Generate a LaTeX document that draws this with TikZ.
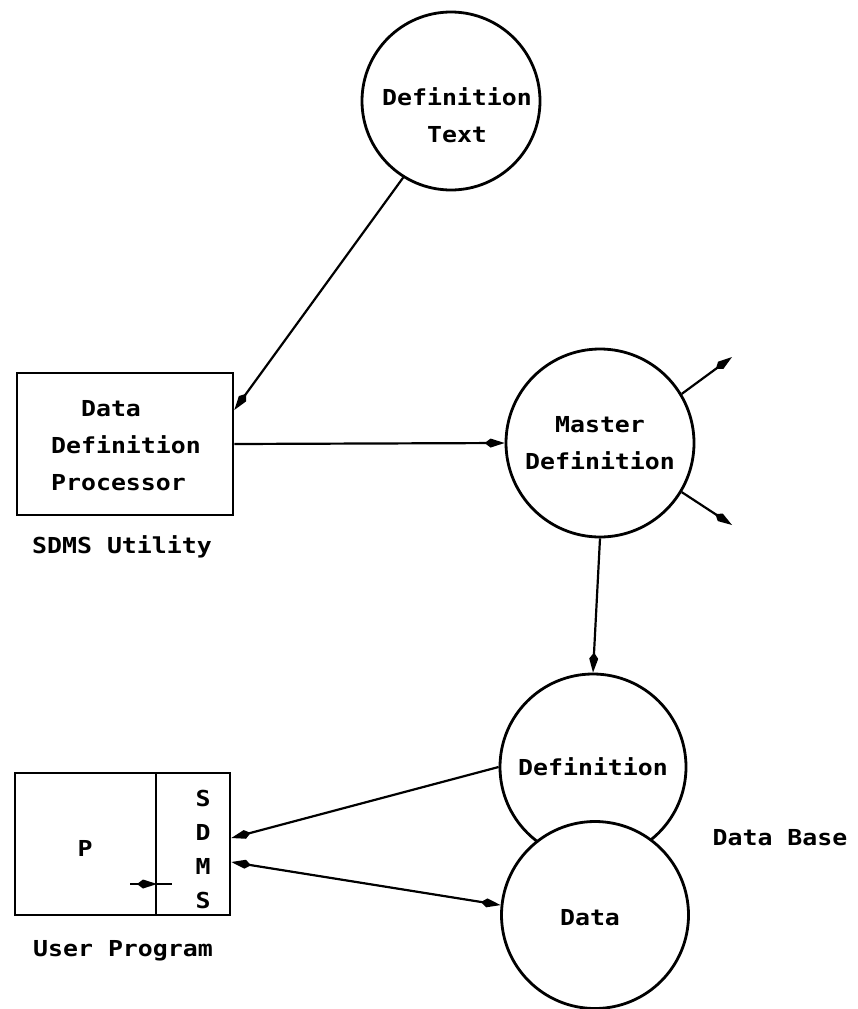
\documentclass[tikz,border=0pt]{standalone}
\usepackage{fontspec}
\setmonofont{DejaVu Sans Mono}[FakeStretch=1.13]
\usetikzlibrary{arrows.meta,calc}
\begin{document}
\begin{tikzpicture}[x=1pt,y=-1pt,
  lbl/.style={font=\ttfamily\bfseries\fontsize{22}{37}\selectfont, inner sep=0pt},
  bubble/.style={circle, draw, line width=2.8pt, fill=white, inner sep=0pt, align=center, font=\ttfamily\bfseries\fontsize{22}{37}\selectfont},
  boxs/.style={rectangle, draw, line width=2.6pt, inner sep=0pt},
  tipk/.tip={Kite[length=20pt,width=9pt,inset=6pt]},
  conn/.style={line width=2.2pt, -tipk},
  conn2/.style={line width=2.2pt, tipk-tipk},
  plain/.style={line width=2.2pt},
]
\fill[white] (0,0) rectangle (858,1009);
\useasboundingbox (0,0) rectangle (858,1009);

% Definition Text
\node[bubble, minimum size=178pt] (deftext) at (451,101) {};
\node[lbl, align=center] (deftextl) at (457,115) {Definition\\Text};

% Data Definition Processor
\node[boxs, minimum width=216pt, minimum height=142pt] (ddp) at (125,444) {};
\node[lbl, align=left] (ddpl) at (126,446) {\hphantom{De}Data\\Definition\\Processor};
\node[lbl, anchor=base] (sdmsu) at (122,553) {SDMS Utility};

% Master Definition
\node[bubble, minimum size=188pt] (mast) at (600,443) {Master\\Definition};
\coordinate (mo1) at (732,357);
\coordinate (mo2) at (732,525);

% Data base circles
\node[bubble, minimum size=186pt] (def) at (593,767) {};
\node[lbl, anchor=base] (defl) at (593,775) {Definition};
\node[bubble, minimum size=187pt] (data) at (595,915) {};
\node[lbl, anchor=base] (datal) at (590,925) {Data};
\node[lbl, anchor=base] (dbase) at (780,845) {Data Base};

% User program box
\node[boxs, minimum width=215pt, minimum height=142pt] (up) at (122.5,844) {};
\coordinate (divtop) at (156,773);
\coordinate (divbot) at (156,915);
\draw[plain] (divtop) -- (divbot);
\node[lbl, anchor=base] (pl) at (85,856) {P};
\node[lbl, align=center, font=\ttfamily\bfseries\fontsize{22}{34}\selectfont] (sdmsl) at (203,849) {S\\D\\M\\S};
\node[lbl, anchor=base] (upl) at (123,956) {User Program};
\coordinate (sa) at (130,884);
\coordinate (sb) at (157,884);
\coordinate (sc) at (172,884);

% connectors
\draw[conn] (deftext.238) -- ($(ddp.east)+(0,-34)$);
\draw[conn] (ddp.east) -- (mast.west);
\draw[conn] (mast.31) -- (mo1);
\draw[conn] (mast.-31) -- (mo2);
\draw[conn] (mast.south) -- (def.north);
\draw[conn] (def.west) -- ($(up.east)+(0,-6)$);
\draw[conn2] ($(up.east)+(0,18)$) -- (data.174);
\draw[conn] (sa) -- (sb);
\draw[plain] (sb) -- (sc);
\end{tikzpicture}
\end{document}
